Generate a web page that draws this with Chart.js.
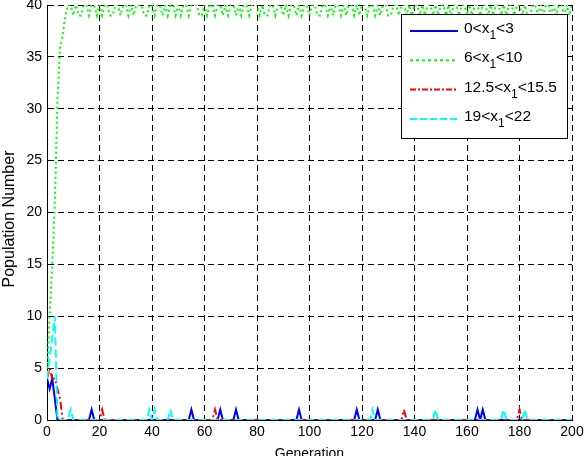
<!DOCTYPE html>
<html lang="en">
<head>
    <meta charset="UTF-8">
    <title>Population Number per Generation</title>
    <script src="https://cdn.jsdelivr.net/npm/chart.js"></script>
    <style>
        body {
            margin: 0;
            padding: 0;
            background-color: white;
        }
        #popChart {
            display: block;
        }
    </style>
</head>
<body>
    <canvas id="popChart" width="586" height="456"></canvas>

    <script>
        // Count of individuals in each x1 range, generation 0..200 (20 per row)
        const blueCounts = [
            4,3,4,2,0, 0,0,0,0,0, 0,0,0,0,0, 0,0,1,0,0,
            0,0,0,0,0, 0,0,0,0,0, 0,0,0,0,0, 0,0,0,0,0,
            0,0,0,0,0, 0,0,0,0,0, 0,0,0,0,0, 1,0,0,0,0,
            0,0,0,0,0, 0,1,0,0,0, 0,0,1,0,0, 0,0,0,0,0,
            0,0,0,0,0, 0,0,0,0,0, 0,0,0,0,0, 0,1,0,0,0,
            0,0,0,0,0, 0,0,0,0,0, 0,0,0,0,0, 0,0,0,1,0,
            0,0,0,0,0, 0,1,0,0,0, 0,0,0,0,0, 0,0,0,0,0,
            0,0,0,0,0, 0,0,0,0,0, 0,0,0,0,0, 0,0,0,0,0,
            0,0,0,0,1, 0,1,0,0,0, 0,0,0,0,0, 0,0,0,0,0,
            0,0,0,0,0, 0,0,0,0,0, 0,0,0,0,0, 0,0,0,0,0,
            0
        ];
        const greenCounts = [
            4,10,15,21,31,36,37,39,
            40,40,39,40,39,39,40,40,39,40,40,39,40,39,40,40,39,39,40,40,
            39,40,40,39,40,39,40,40,40,39,39,40,40,39,40,40,39,40,39,40,
            40,39,40,39,40,40,39,40,40,40,39,39,40,39,40,40,39,40,40,39,
            40,39,40,40,39,40,39,40,40,39,40,40,40,39,40,39,39,40,40,39,
            40,40,39,40,39,40,40,39,40,39,40,40,39,40,40,39,39,40,40,39,
            40,39,40,40,39,40,39,40,40,39,40,39,40,40,39,40,40,39,40,39,
            40,40,39,39,40,40,39,40,40,39,40,39,40,40,39,40,39,40,40,39,
            40,39,40,40,39,40,39,40,40,39,40,40,39,40,39,40,40,39,40,40,
            39,40,39,40,40,39,40,39,40,40,39,40,40,39,40,39,39,40,40,39,
            40,39,40,40,39,40,39,40,40,39,40,39,40
        ];
        const redCounts = [
            4,5,4,4,3, 2,0,0,0,0, 0,0,0,0,0, 0,0,0,0,0,
            0,1,0,0,0, 0,0,0,0,0, 0,0,0,0,0, 0,0,0,0,0,
            0,0,0,0,0, 0,0,0,0,0, 0,0,0,0,0, 0,0,0,0,0,
            0,0,0,0,1, 0,0,0,0,0, 0,0,0,0,0, 0,0,0,0,0,
            0,0,0,0,0, 0,0,0,0,0, 0,0,0,0,0, 0,0,0,0,0,
            0,0,0,0,0, 0,0,0,0,0, 0,0,0,0,0, 0,0,0,0,0,
            0,0,0,0,0, 0,0,0,0,0, 0,0,0,0,0, 0,1,0,0,0,
            0,0,0,0,0, 0,0,0,0,0, 0,0,0,0,0, 0,0,0,0,0,
            0,0,0,0,0, 0,0,0,0,0, 0,0,0,0,0, 0,0,0,0,0,
            1,0,0,0,0, 0,0,0,0,0, 0,0,0,0,0, 0,0,0,0,0,
            0
        ];
        const cyanCounts = [
            4,6,8,10,0, 0,0,0,0,1, 0,0,0,0,0, 0,0,0,0,0,
            0,0,0,0,0, 0,0,0,0,0, 0,0,0,0,0, 0,0,0,0,1,
            0,1,0,0,0, 0,0,1,0,0, 0,0,0,0,0, 0,0,0,0,0,
            0,0,0,0,0, 0,0,0,0,0, 0,0,0,0,0, 0,0,0,0,0,
            0,0,0,0,0, 0,0,0,0,0, 0,0,0,0,0, 0,0,0,0,0,
            0,0,0,0,0, 0,0,0,0,0, 0,0,0,0,0, 0,0,0,0,0,
            0,0,0,0,1, 0,0,0,0,0, 0,0,0,0,0, 0,0,0,0,0,
            0,0,0,0,0, 0,0,0,1,0, 0,0,0,0,0, 0,0,0,0,0,
            0,0,0,0,0, 0,0,0,0,0, 0,0,0,0,1, 0,0,0,0,0,
            0,0,1,0,0, 0,0,0,0,0, 0,0,0,0,0, 0,0,0,0,0,
            0
        ];

        // legend text: [before subscript, subscript, after subscript]
        const legendLabels = [
            ['0<x', '1', '<3'],
            ['6<x', '1', '<10'],
            ['12.5<x', '1', '<15.5'],
            ['19<x', '1', '<22']
        ];

        const xTicks = [0, 20, 40, 60, 80, 100, 120, 140, 160, 180, 200];
        const yTicks = [0, 5, 10, 15, 20, 25, 30, 35, 40];

        const FONT = '"Liberation Sans", Arial, Helvetica, sans-serif';

        const styles = [
            { color: '#0000ff', dash: [], legendDash: [] },
            { color: '#00ff00', dash: [2, 3], legendDash: [3, 3] },
            { color: '#ff0000', dash: [8, 3, 2, 3], legendDash: [6, 2, 2, 2] },
            { color: '#00ffff', dash: [8, 4], legendDash: [7, 3] }
        ];

        const toPoints = arr => arr.map((v, i) => ({ x: i, y: v }));
        const allCounts = [blueCounts, greenCounts, redCounts, cyanCounts];
        // later series drawn on top, like the original plot
        const drawOrder = [3, 2, 1, 0];

        // Legend box + axis titles drawn by hand (subscripts)
        const matlabDecor = {
            id: 'matlabDecor',
            afterDraw(chart) {
                const ctx = chart.ctx;
                const area = chart.chartArea;
                ctx.save();

                // axis titles
                ctx.fillStyle = '#000';
                ctx.font = '14px ' + FONT;
                ctx.textAlign = 'center';
                ctx.textBaseline = 'alphabetic';
                ctx.fillText('Generation', (area.left + area.right) / 2, 458);
                ctx.save();
                ctx.translate(14, 219);
                ctx.rotate(-Math.PI / 2);
                ctx.font = '16px ' + FONT;
                ctx.fillText('Population Number', 0, 0);
                ctx.restore();

                // legend
                const bx = 401, by = 14, bw = 166, bh = 124;
                ctx.fillStyle = '#fff';
                ctx.fillRect(bx, by, bw, bh);
                ctx.setLineDash([]);
                ctx.strokeStyle = '#000';
                ctx.lineWidth = 1;
                ctx.strokeRect(bx + 0.5, by + 0.5, bw, bh);

                legendLabels.forEach((parts, i) => {
                    const rowY = 31 + i * 29.3;
                    ctx.beginPath();
                    ctx.setLineDash(styles[i].legendDash);
                    ctx.strokeStyle = styles[i].color;
                    ctx.lineWidth = 2;
                    ctx.moveTo(410, rowY);
                    ctx.lineTo(458, rowY);
                    ctx.stroke();

                    ctx.fillStyle = '#000';
                    ctx.textAlign = 'left';
                    ctx.textBaseline = 'alphabetic';
                    let tx = 464;
                    const base = rowY + 2;
                    ctx.font = '15.5px ' + FONT;
                    ctx.fillText(parts[0], tx, base);
                    tx += ctx.measureText(parts[0]).width;
                    ctx.font = '12px ' + FONT;
                    ctx.fillText(parts[1], tx, base + 6);
                    tx += ctx.measureText(parts[1]).width;
                    ctx.font = '15.5px ' + FONT;
                    ctx.fillText(parts[2], tx, base);
                });
                ctx.restore();
            }
        };

        const popChart = new Chart(document.getElementById('popChart'), {
            type: 'line',
            data: {
                datasets: allCounts.map((arr, i) => ({
                    label: legendLabels[i].join(''),
                    data: toPoints(arr),
                    borderColor: styles[i].color,
                    borderDash: styles[i].dash,
                    borderWidth: 2,
                    pointRadius: 0,
                    tension: 0,
                    fill: false,
                    order: drawOrder[i]
                }))
            },
            options: {
                responsive: false,
                animation: false,
                devicePixelRatio: 1,
                layout: { padding: { top: 5, right: 14, left: 0, bottom: 0 } },
                plugins: {
                    legend: { display: false },
                    tooltip: { enabled: false }
                },
                scales: {
                    x: {
                        type: 'linear',
                        min: 0,
                        max: 200,
                        afterBuildTicks: s => { s.ticks = xTicks.map(v => ({ value: v })); },
                        afterFit: s => {
                            s.height = 36;
                            s.paddingLeft = 0;
                            s.paddingRight = 0;
                        },
                        ticks: {
                            color: '#000',
                            font: { family: FONT, size: 14 },
                            padding: 4,
                            maxRotation: 0,
                            autoSkip: false
                        },
                        grid: { color: '#000', lineWidth: 1, drawTicks: false },
                        border: { display: true, color: '#000', width: 1, dash: [6, 4] }
                    },
                    y: {
                        type: 'linear',
                        min: 0,
                        max: 40,
                        afterBuildTicks: s => { s.ticks = yTicks.map(v => ({ value: v })); },
                        afterFit: s => {
                            s.width = 47;
                            s.paddingTop = 0;
                            s.paddingBottom = 0;
                        },
                        ticks: {
                            color: '#000',
                            font: { family: FONT, size: 14 },
                            padding: 5,
                            autoSkip: false
                        },
                        grid: { color: '#000', lineWidth: 1, drawTicks: false },
                        border: { display: true, color: '#000', width: 1, dash: [6, 4] }
                    }
                }
            },
            plugins: [matlabDecor]
        });
    </script>
</body>
</html>
